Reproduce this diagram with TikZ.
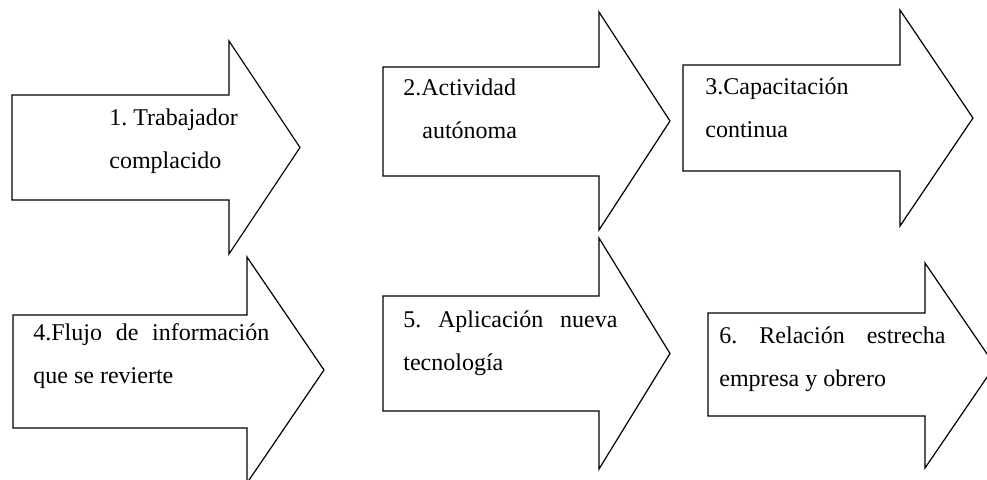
\documentclass[tikz,border=0pt]{standalone}
\usepackage{fontspec}
\setmainfont{Liberation Serif}

\begin{document}
\begin{tikzpicture}
  [x=0.5pt,y=-0.5pt,
   flecha/.style={draw,line width=0.6pt,fill=white},
   texto/.style={anchor=base west,inner sep=0pt,align=left,
     font=\fontsize{12pt}{21.5pt}\selectfont\frenchspacing},
   justo/.style={texto,align=justify,text width=#1}]
  \clip (0,0) rectangle (987,479);
  % block arrows: left, body top, body bottom, shaft end, head top, tip, head bottom
  \foreach \xa/\ya/\yb/\xs/\yh/\xt/\yk in
    {12/95/200/229/41/300/254, 383/67/176/599/12/670/230,
     683/65/171/900/10/973/226, 13/315/428/247/257/324/483,
     383/296/411/599/238/670/469, 708/313/416/925/263/995/468}
    \draw[flecha] (\xa,\ya) -- (\xs,\ya) -- (\xs,\yh) -- (\xt,{(\yh+\yk)/2})
      -- (\xs,\yk) -- (\xs,\yb) -- (\xa,\yb) -- cycle;
  \node[texto] (t1) at (109,168) {1. Trabajador\\complacido};
  \node[texto] (t2) at (403,138) {2.Actividad\\\hspace*{9.5pt}autónoma};
  \node[texto] (t3) at (705,137) {3.Capacitación\\continua};
  \node[justo=118pt] (t4) at (33,340) {4.Flujo de información\linebreak que se revierte};
  \node[justo=107pt] (t5) at (403,327) {5. Aplicación nueva\linebreak tecnología};
  \node[justo=113pt] (t6) at (719,343) {6. Relación estrecha\linebreak empresa y obrero};
\end{tikzpicture}
\end{document}
